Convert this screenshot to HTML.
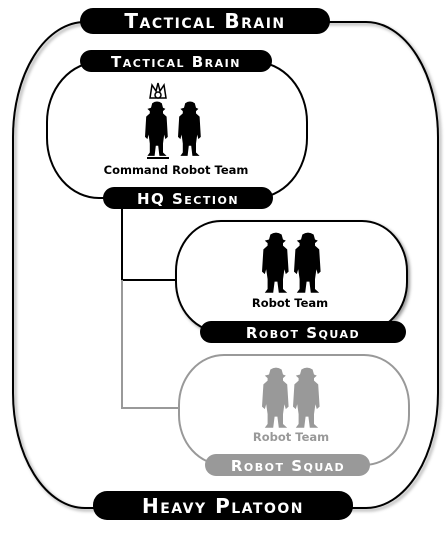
<!DOCTYPE html>
<html><head><style>
body{margin:0;background:#fff;width:448px;height:535px;overflow:hidden}
svg{display:block}
.t{font-family:"DejaVu Sans","Liberation Sans",sans-serif;font-weight:bold;fill:#fff;font-variant:small-caps;text-anchor:middle;letter-spacing:1.5px}
.s{font-family:"DejaVu Sans","Liberation Sans",sans-serif;font-weight:bold;text-anchor:middle;font-size:11.5px}
</style></head><body>
<svg width="448" height="535" viewBox="0 0 448 535">
<defs>
<symbol id="r" viewBox="0 0 20 50" preserveAspectRatio="none">
<path d="M6 2 Q10 -1 14 2 L15 6 L17 7 L15 9 L15 11 L18 14 L19 32 L17 34 L16 30 L15 38 L15 46 L18 49 L12 49 L11 40 L9 40 L8 49 L2 49 L4 46 L4 38 L3 30 L2 34 L0 32 L1 14 L4 11 L4 9 L2 7 L5 6 Z"/>
</symbol>
<filter id="sh" x="-10%" y="-10%" width="130%" height="140%"><feDropShadow dx="2" dy="2" stdDeviation="1.5" flood-opacity="0.4"/></filter>
</defs>
<rect x="13" y="22" width="425" height="486" rx="72" ry="115" fill="none" stroke="#000" stroke-width="2" filter="url(#sh)"/>
<rect x="47" y="62" width="260" height="136" rx="52" ry="60" fill="#fff" stroke="#000" stroke-width="2"/>
<rect x="176" y="221" width="231" height="111" rx="45" ry="50" fill="#fff" stroke="#000" stroke-width="2" filter="url(#sh)"/>
<rect x="179" y="355" width="230" height="110" rx="45" ry="50" fill="#fff" stroke="#999" stroke-width="2"/>
<path d="M122 209 V280 H176" fill="none" stroke="#000" stroke-width="2"/>
<path d="M122 280 V408 H179" fill="none" stroke="#999" stroke-width="2"/>
<rect x="80" y="8" width="250" height="26" rx="13" fill="#000"/>
<text class="t" x="205" y="28" font-size="20">Tactical Brain</text>
<rect x="80" y="50" width="192" height="22" rx="11" fill="#000"/>
<text class="t" x="176" y="67" font-size="15">Tactical Brain</text>
<rect x="103" y="187" width="170" height="22" rx="11" fill="#000"/>
<text class="t" x="188" y="204" font-size="15">HQ Section</text>
<rect x="200" y="321" width="206" height="22" rx="11" fill="#000"/>
<text class="t" x="303" y="338" font-size="15">Robot Squad</text>
<rect x="205" y="454" width="165" height="22" rx="11" fill="#999"/>
<text class="t" x="288" y="471" font-size="15">Robot Squad</text>
<rect x="93" y="491" width="260" height="29" rx="14" fill="#000"/>
<text class="t" x="223" y="513" font-size="20">Heavy Platoon</text>
<g fill="#000">
<use href="#r" x="145" y="101" width="24" height="56"/>
<use href="#r" x="178" y="101" width="24" height="56"/>
<path d="M150 98 L152 85 L156 91 L158 83 L160 91 L164 85 L166 98 Z" fill="none" stroke="#000" stroke-width="1.5"/>
<circle cx="158" cy="95" r="3" fill="#fff" stroke="#000" stroke-width="1.5"/>
<rect x="147" y="157" width="22" height="2"/>
<use href="#r" x="262" y="232" width="28" height="62"/>
<use href="#r" x="294" y="232" width="28" height="62"/>
</g>
<g fill="#999">
<use href="#r" x="262" y="367" width="28" height="62"/>
<use href="#r" x="293" y="367" width="28" height="62"/>
</g>
<text class="s" x="176" y="174">Command Robot Team</text>
<text class="s" x="290" y="307">Robot Team</text>
<text class="s" x="291" y="441" fill="#999">Robot Team</text>
</svg>
</body></html>
